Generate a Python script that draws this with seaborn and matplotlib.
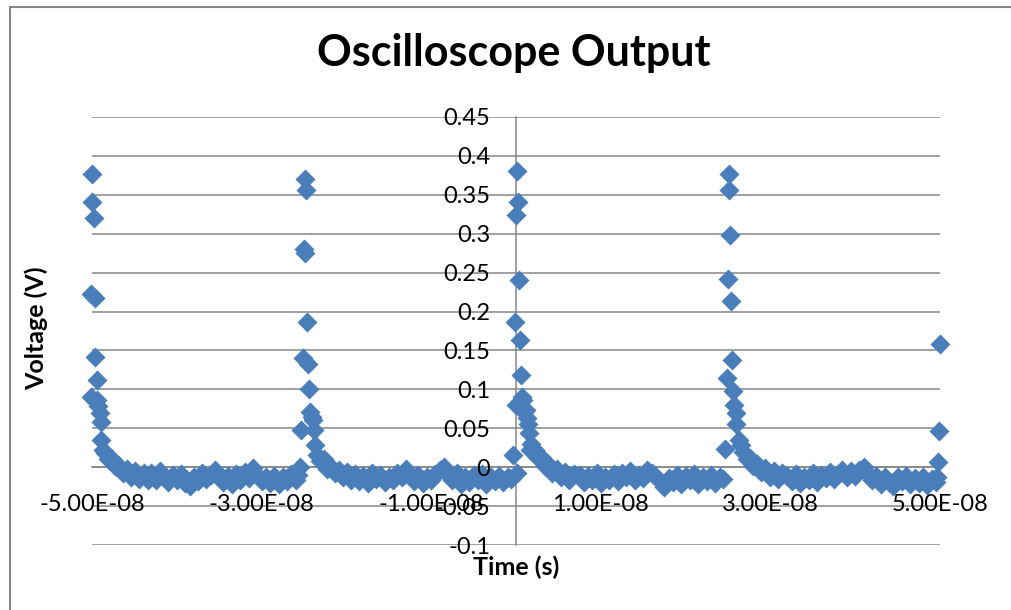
import numpy as np
import pandas as pd
import matplotlib
matplotlib.use("Agg")
import matplotlib.pyplot as plt
import seaborn as sns
from matplotlib.ticker import FuncFormatter, FixedLocator
from matplotlib.patches import Rectangle

# ---------------- data (time in ns, voltage in V) ----------------
t_pulse1 = [-50.15, -50.1, -50.0, -50.0, -49.8, -49.7, -49.6, -49.45, -49.45, -49.3,
            -49.0, -48.9, -48.9, -48.7, -48.5, -48.1, -47.7, -47.3, -46.9, -46.4,
            -45.9, -45.4, -44.9, -44.4, -43.9, -43.4]
v_pulse1 = [0.090, 0.223, 0.377, 0.341, 0.320, 0.218, 0.142, 0.112, 0.086, 0.078,
            0.069, 0.058, 0.035, 0.022, 0.018, 0.010, 0.011, 0.001, 0.003, -0.007,
            -0.002, -0.012, -0.005, -0.015, -0.008, -0.016]

t_base1 = [-43.0, -42.5, -42.0, -41.5, -41.0, -40.5, -40.0, -39.5, -39.0, -38.5,
           -38.0, -37.5, -37.0, -36.5, -36.0, -35.5, -35.0, -34.5, -34.0, -33.5,
           -33.0, -32.5, -32.0, -31.5, -31.0, -30.5, -30.0, -29.5, -29.0, -28.5,
           -28.0, -27.5, -27.0, -26.5, -26.0]
v_base1 = [-0.008, -0.017, -0.005, -0.013, -0.019, -0.010, -0.016, -0.009, -0.020, -0.024,
           -0.012, -0.018, -0.007, -0.015, -0.010, -0.003, -0.013, -0.019, -0.011, -0.021,
           -0.009, -0.016, -0.006, -0.014, -0.001, -0.010, -0.018, -0.012, -0.020, -0.011,
           -0.022, -0.013, -0.018, -0.009, -0.016]

t_pulse2 = [-25.7, -25.5, -25.4, -25.15, -24.95, -24.9, -24.85, -24.75, -24.7, -24.5,
            -24.4, -24.3, -24.1, -23.95, -23.8, -23.7, -23.5, -23.1, -22.7, -22.3,
            -21.9, -21.4, -20.9, -20.4, -19.9, -19.4]
v_pulse2 = [-0.010, 0.000, 0.048, 0.140, 0.280, 0.370, 0.275, 0.356, 0.186, 0.133,
            0.100, 0.071, 0.065, 0.060, 0.048, 0.029, 0.016, 0.008, 0.010, -0.002,
            0.002, -0.008, -0.003, -0.013, -0.006, -0.016]

t_base2 = [-19.0, -18.5, -18.0, -17.5, -17.0, -16.5, -16.0, -15.5, -15.0, -14.5,
           -14.0, -13.5, -13.0, -12.5, -12.0, -11.5, -11.0, -10.5, -10.0, -9.5,
           -9.0, -8.5, -8.0, -7.5, -7.0, -6.5, -6.0, -5.5, -5.0, -4.5,
           -4.0, -3.5, -3.0, -2.5, -2.0, -1.5, -1.0, -0.6]
v_base2 = [-0.009, -0.018, -0.011, -0.020, -0.008, -0.015, -0.010, -0.019, -0.012, -0.017,
           -0.007, -0.013, -0.002, -0.011, -0.018, -0.010, -0.020, -0.012, -0.017, -0.009,
           -0.003, 0.000, -0.010, -0.016, -0.008, -0.021, -0.012, -0.019, -0.010, -0.016,
           -0.009, -0.022, -0.013, -0.018, -0.011, -0.019, -0.012, -0.015]

t_pulse3 = [-0.3, -0.1, -0.05, 0.0, 0.08, 0.15, 0.27, 0.35, 0.47, 0.55,
            0.7, 0.86, 1.0, 1.14, 1.26, 1.4, 1.53, 1.65, 1.8, 2.2,
            2.6, 3.0, 3.4, 3.8, 4.3, 4.8, 5.3, 5.8, 6.3, 6.8]
v_pulse3 = [0.016, 0.186, 0.080, 0.324, -0.008, 0.380, 0.341, 0.241, 0.163, 0.118,
            0.090, 0.086, 0.071, 0.073, 0.063, 0.055, 0.044, 0.022, 0.030, 0.022,
            0.012, 0.013, 0.001, 0.004, -0.007, -0.002, -0.013, -0.006, -0.016, -0.009]

t_base3 = [7.5, 8.0, 8.5, 9.0, 9.5, 10.0, 10.5, 11.0, 11.5, 12.0,
           12.5, 13.0, 13.5, 14.0, 14.5, 15.0, 15.5, 16.0, 16.5, 17.0,
           17.5, 18.0, 18.5, 19.0, 19.5, 20.0, 20.5, 21.0, 21.5, 22.0,
           22.5, 23.0, 23.5, 24.0, 24.4]
v_base3 = [-0.010, -0.019, -0.011, -0.017, -0.008, -0.020, -0.012, -0.016, -0.009, -0.018,
           -0.007, -0.013, -0.005, -0.016, -0.010, -0.014, -0.003, -0.008, -0.012, -0.018,
           -0.025, -0.014, -0.019, -0.010, -0.021, -0.011, -0.017, -0.009, -0.022, -0.012,
           -0.018, -0.010, -0.020, -0.012, -0.015]

t_pulse4 = [24.7, 24.9, 25.03, 25.08, 25.15, 25.27, 25.35, 25.5, 25.63, 25.75,
            25.9, 26.0, 26.3, 26.5, 26.8, 27.2, 27.6, 28.0, 28.4, 28.9,
            29.4, 29.9, 30.4, 30.9, 31.4]
v_pulse4 = [0.023, 0.114, 0.242, 0.356, 0.377, 0.298, 0.2135, 0.138, 0.098, 0.080,
            0.069, 0.056, 0.035, 0.028, 0.020, 0.011, 0.012, 0.001, 0.004, -0.006,
            -0.001, -0.012, -0.005, -0.015, -0.008]

t_base4 = [32.0, 32.5, 33.0, 33.5, 34.0, 34.5, 35.0, 35.5, 36.0, 36.5,
           37.0, 37.5, 38.0, 38.5, 39.0, 39.5, 40.0, 40.5, 41.0, 41.5,
           42.0, 42.5, 43.0, 43.5, 44.0, 44.5, 45.0, 45.5, 46.0, 46.5,
           47.0, 47.5, 48.0, 48.5, 49.0, 49.5]
v_base4 = [-0.011, -0.018, -0.009, -0.020, -0.012, -0.016, -0.008, -0.019, -0.010, -0.014,
           -0.006, -0.015, -0.009, -0.004, -0.012, -0.005, -0.011, -0.003, 0.000, -0.009,
           -0.016, -0.011, -0.022, -0.013, -0.019, -0.024, -0.012, -0.018, -0.011, -0.021,
           -0.014, -0.020, -0.013, -0.023, -0.015, -0.019]

t_pulse5 = [49.7, 49.75, 49.9, 50.0]
v_pulse5 = [-0.012, 0.007, 0.0465, 0.158]

x_ticks = [-5e-8, -3e-8, -1e-8, 1e-8, 3e-8, 5e-8]
y_ticks = [-0.1, -0.05, 0.0, 0.05, 0.1, 0.15, 0.2, 0.25, 0.3, 0.35, 0.4, 0.45]

title = "Oscilloscope Output"
x_label = "Time (s)"
y_label = "Voltage (V)"

# ---------------- build table ----------------
t_ns = np.concatenate([t_pulse1, t_base1, t_pulse2, t_base2, t_pulse3,
                       t_base3, t_pulse4, t_base4, t_pulse5])
volts = np.concatenate([v_pulse1, v_base1, v_pulse2, v_base2, v_pulse3,
                        v_base3, v_pulse4, v_base4, v_pulse5])
df = pd.DataFrame({"t": t_ns * 1e-9, "v": volts})

# ---------------- style ----------------
sns.set_theme(style="white")
plt.rcParams["font.family"] = ["Lato", "DejaVu Sans"]

GRID = "#868686"
BLUE = "#4A7EBB"
W, H = 1011, 610

fig = plt.figure(figsize=(W / 100, H / 100), dpi=100)
fig.patch.set_facecolor("white")
rect = [92 / W, 1 - 545 / H, 848 / W, 428 / H]
ax = fig.add_axes(rect)

sns.scatterplot(data=df, x="t", y="v", marker="D", s=104, color=BLUE,
                linewidth=0, ax=ax, zorder=3, clip_on=False, legend=False)

ax.set_xlim(-5e-8, 5e-8)
ax.set_ylim(-0.1, 0.45)
ax.xaxis.set_major_locator(FixedLocator(x_ticks))
ax.yaxis.set_major_locator(FixedLocator(y_ticks))


def yfmt(v, pos):
    r = round(v, 2)
    if r == 0:
        return "0"
    return f"{r:g}"


ax.xaxis.set_major_formatter(FuncFormatter(lambda v, p: f"{v:.2E}"))
ax.yaxis.set_major_formatter(FuncFormatter(yfmt))

ax.set_axisbelow(True)
ax.yaxis.grid(True, color=GRID, linewidth=1.1)
ax.xaxis.grid(False)
for s in ["top", "right"]:
    ax.spines[s].set_visible(False)
for s in ["left", "bottom"]:
    ax.spines[s].set_position(("data", 0))
    ax.spines[s].set_color(GRID)
    ax.spines[s].set_linewidth(1.1)
ax.tick_params(axis="both", direction="out", length=4, width=1.1, color=GRID,
               labelbottom=False, labelleft=False)
ax.set_xlabel("")
ax.set_ylabel("")

# overlay axes for tick labels drawn above markers
ax2 = fig.add_axes(rect, sharex=ax, sharey=ax)
ax2.patch.set_visible(False)
for s in ax2.spines.values():
    s.set_visible(False)
ax2.spines["left"].set_position(("data", 0))
ax2.spines["bottom"].set_position(("data", 0))
ax2.grid(False)
ax2.tick_params(axis="x", length=0, pad=19.5, labelsize=17, labelcolor="black")
ax2.tick_params(axis="y", length=0, pad=18.5, labelsize=17, labelcolor="black")
ax2.set_xlabel("")
ax2.set_ylabel("")

# text
fig.text(514 / W, 1 - 65.7 / H, title, ha="center", va="baseline",
         fontsize=31, fontweight="bold", color="black")
fig.text(516 / W, 1 - 567 / H, x_label, ha="center", va="center",
         fontsize=18, fontweight="bold", color="black")
fig.text(36 / W, 1 - 328 / H, y_label, ha="center", va="center", rotation=90,
         fontsize=18, fontweight="bold", color="black")

# chart-area border (left & top visible)
fig.patches.append(Rectangle((10 / W, -0.5), 2.0, 0.5 + (1 - 7 / H),
                             transform=fig.transFigure, fill=False,
                             edgecolor=GRID, linewidth=1.5))

fig.savefig("out.png", dpi=100, facecolor="white")
